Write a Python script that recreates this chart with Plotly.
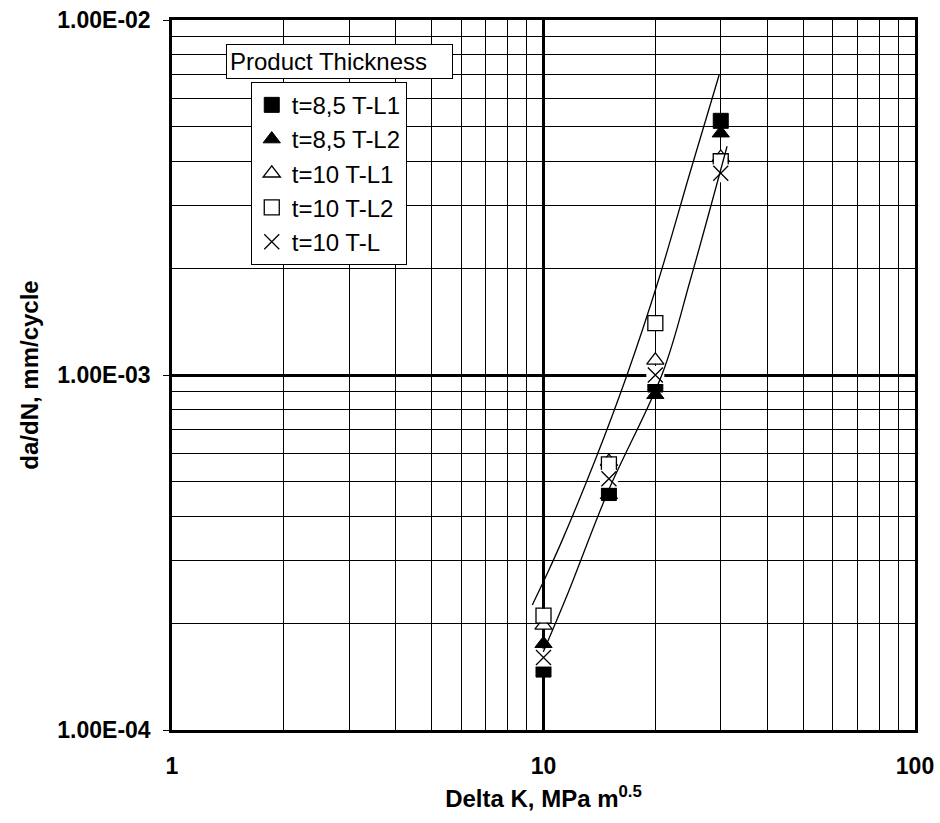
import plotly.graph_objects as go

# ---- data ----
delta_k = [10, 15, 20, 30]
s_t85_tl1 = [1.48e-4, 4.65e-4, 9.4e-4, 5.2e-3]   # filled square
s_t85_tl2 = [1.75e-4, 4.6e-4, 8.8e-4, 4.8e-3]    # filled triangle
s_t10_tl1 = [1.97e-4, 5.7e-4, 1.10e-3, 4.1e-3]   # open triangle
s_t10_tl2 = [2.10e-4, 5.6e-4, 1.40e-3, 4.0e-3]   # open square
s_t10_tl = [1.60e-4, 5.1e-4, 1.00e-3, 3.7e-3]    # cross

fit_upper_x = [9.33, 10.22, 11.21, 13.76, 16.78, 20.36, 24.8, 29.7]
fit_upper_y = [2.25e-4, 2.75e-4, 3.41e-4, 5.74e-4, 1.0e-3, 1.84e-3, 3.72e-3, 7.0e-3]
fit_lower_x = [9.99, 11.64, 14.92, 20.97, 24.8, 31.2]
fit_lower_y = [1.66e-4, 2.43e-4, 4.7e-4, 1.02e-3, 1.84e-3, 4.41e-3]

series_names = ["t=8,5 T-L1", "t=8,5 T-L2", "t=10 T-L1", "t=10 T-L2", "t=10 T-L"]
x_tick_vals = [1, 10, 100]
x_tick_text = ["1", "10", "100"]
y_tick_vals = [1e-4, 1e-3, 1e-2]
y_tick_text = ["1.00E-04", "1.00E-03", "1.00E-02"]

FONT = "Liberation Sans, Arial, sans-serif"
fig = go.Figure()

styles = [
    dict(symbol="square", line=dict(color="black", width=1)),
    dict(symbol="triangle-up", line=dict(color="black", width=1)),
    dict(symbol="triangle-up-open", line=dict(color="black", width=1.3)),
    dict(symbol="square-open", line=dict(color="black", width=1.3)),
    dict(symbol="x-thin-open", line=dict(color="black", width=1.3)),
]
backdrops = [None, None, ("triangle-up", 14), ("square", 14), ("square", 18)]
series = [s_t85_tl1, s_t85_tl2, s_t10_tl1, s_t10_tl2, s_t10_tl]

for i, (name, vals, st) in enumerate(zip(series_names, series, styles)):
    if backdrops[i]:
        sym, sz = backdrops[i]
        fig.add_trace(go.Scatter(
            x=delta_k, y=vals, mode="markers", showlegend=False, hoverinfo="skip",
            marker=dict(symbol=sym, size=sz, color="white", line=dict(width=0))))
    fig.add_trace(go.Scatter(
        x=delta_k, y=vals, mode="markers", name=name, legendgroup=f"g{i}",
        marker=dict(symbol=st["symbol"], size=15, color="black", line=st["line"])))

fig.add_trace(go.Scatter(x=fit_upper_x, y=fit_upper_y, mode="lines", showlegend=False,
                         line=dict(color="black", width=1.3, shape="spline", smoothing=1.0)))
fig.add_trace(go.Scatter(x=fit_lower_x, y=fit_lower_y, mode="lines", showlegend=False,
                         line=dict(color="black", width=1.3, shape="spline", smoothing=1.0)))

minor_x = [m * 10 ** e for e in range(0, 2) for m in range(2, 10)]
minor_y = [m * 10 ** e for e in range(-4, -2) for m in range(2, 10)]

fig.update_xaxes(
    type="log", range=[0, 2], tickvals=x_tick_vals, ticktext=x_tick_text,
    showgrid=True, gridcolor="black", gridwidth=2.5,
    minor=dict(tickvals=minor_x, showgrid=True, gridcolor="black", gridwidth=1, ticks=""),
    showline=True, linecolor="black", linewidth=2.5, mirror=True,
    ticks="", zeroline=False, ticklabelstandoff=14, automargin=False,
    ticklabeloverflow="allow",
    tickfont=dict(family=FONT, size=23, color="black", weight="bold"),
    title=dict(text="Delta K, MPa m<sup>0.5</sup>", font=dict(family=FONT, size=24, color="black", weight="bold"),
               standoff=12),
)
fig.update_yaxes(
    type="log", range=[-4, -2], tickvals=y_tick_vals, ticktext=y_tick_text,
    showgrid=True, gridcolor="black", gridwidth=2.5,
    minor=dict(tickvals=minor_y, showgrid=True, gridcolor="black", gridwidth=1, ticks=""),
    showline=True, linecolor="black", linewidth=2.5, mirror=True,
    ticks="outside", ticklen=6, tickcolor="black", tickwidth=1, zeroline=False,
    ticklabelstandoff=8, automargin=False, ticklabeloverflow="allow",
    tickfont=dict(family=FONT, size=23, color="black", weight="bold"),
    title=dict(text="da/dN, mm/cycle", font=dict(family=FONT, size=24, color="black", weight="bold"),
               standoff=12),
)

fig.update_layout(
    width=940, height=823,
    margin=dict(l=172, r=25, t=20, b=93),
    paper_bgcolor="white", plot_bgcolor="white",
    showlegend=True,
    legend=dict(x=0.106, y=0.913, xanchor="left", yanchor="top",
                bgcolor="white", bordercolor="black", borderwidth=1,
                font=dict(family=FONT, size=24, color="black"),
                tracegroupgap=0, itemwidth=30),
    annotations=[dict(
        text="Product Thickness", xref="paper", yref="paper",
        x=0.0723, y=0.966, xanchor="left", yanchor="top", showarrow=False,
        font=dict(family=FONT, size=24, color="black"),
        bgcolor="white", bordercolor="black", borderwidth=1, borderpad=3,
        width=219, align="left")],
)

fig.write_html("out.html", config={"displayModeBar": False},
               post_script="document.body.style.margin='0';document.body.style.overflow='hidden';")
